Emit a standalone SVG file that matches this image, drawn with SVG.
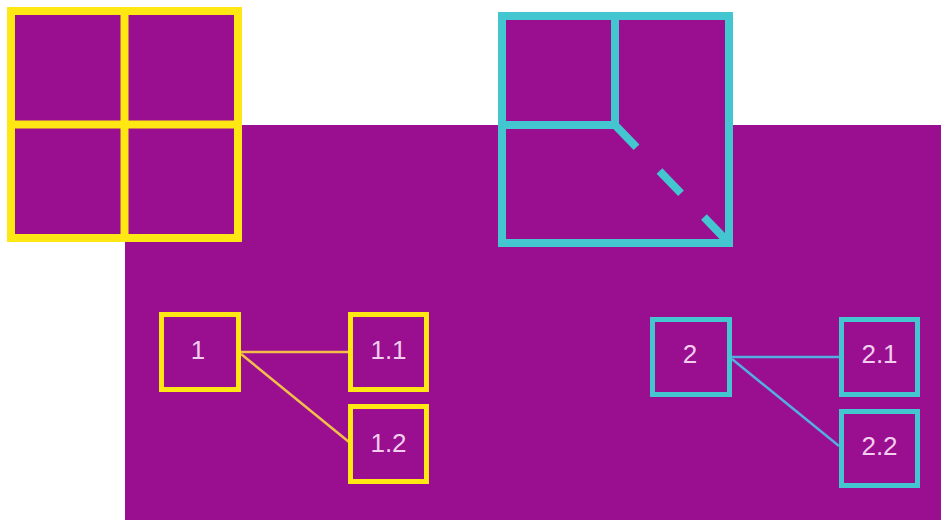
<svg xmlns="http://www.w3.org/2000/svg" width="941" height="520" viewBox="0 0 941 520">
<style>
.y{fill:#990f8f;stroke:#ffe714;}
.c{fill:#990f8f;stroke:#43c6d0;}
.big{stroke-width:8;}
.sm{stroke-width:5;}
.t{font-family:"Liberation Sans",Arial,sans-serif;font-size:26px;fill:#f3cdee;text-anchor:middle;}
</style>
<rect width="941" height="520" fill="#ffffff"/>
<rect x="125" y="125" width="816" height="395" fill="#990f8f"/>
<g id="yellow-grid">
<rect class="y big" x="11" y="11" width="227" height="227"/>
<line x1="124.5" y1="11" x2="124.5" y2="238" stroke="#ffe714" stroke-width="8"/>
<line x1="11" y1="124.5" x2="238" y2="124.5" stroke="#ffe714" stroke-width="8"/>
</g>
<g id="cyan-box">
<rect class="c big" x="502" y="16" width="227" height="227"/>
<polyline points="615,16 615,125 502,125" fill="none" stroke="#43c6d0" stroke-width="8"/>
<line x1="615" y1="125" x2="729" y2="243" stroke="#43c6d0" stroke-width="8" stroke-dasharray="31 33"/>
</g>
<g id="connectors">
<line x1="241" y1="352" x2="348" y2="352" stroke="#f2bf4a" stroke-width="2.5"/>
<line x1="241" y1="354" x2="349" y2="442" stroke="#f2bf4a" stroke-width="2.5"/>
<line x1="732" y1="357" x2="839" y2="357" stroke="#55aee0" stroke-width="2.5"/>
<line x1="732" y1="359" x2="839" y2="446" stroke="#55aee0" stroke-width="2.5"/>
</g>
<g id="n1"><rect class="y sm" x="161.5" y="314.5" width="77" height="75"/><text class="t" x="198" y="359">1</text></g>
<g id="n1-1"><rect class="y sm" x="350.5" y="314.5" width="76" height="75"/><text class="t" x="388.5" y="359">1.1</text></g>
<g id="n1-2"><rect class="y sm" x="350.5" y="406.5" width="76" height="75"/><text class="t" x="388.5" y="452">1.2</text></g>
<g id="n2"><rect class="c sm" x="652.5" y="319.5" width="77" height="75"/><text class="t" x="690" y="363">2</text></g>
<g id="n2-1"><rect class="c sm" x="841.5" y="319.5" width="76" height="75"/><text class="t" x="879.5" y="363">2.1</text></g>
<g id="n2-2"><rect class="c sm" x="841.5" y="411.5" width="76" height="74"/><text class="t" x="879.5" y="455">2.2</text></g>
</svg>
